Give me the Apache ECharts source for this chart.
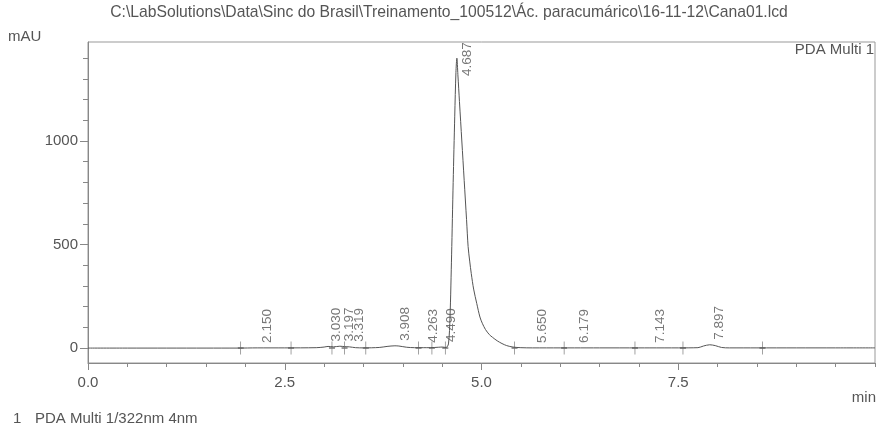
<!DOCTYPE html>
<html>
<head>
<meta charset="utf-8">
<script src="https://cdn.jsdelivr.net/npm/echarts@6/dist/echarts.min.js"></script>
<style>html,body{margin:0;padding:0;background:#fff}#c{width:879px;height:432px}</style>
</head>
<body>
<div id="c"></div>
<script>
// ---- data ----
const titleText = 'C:\\LabSolutions\\Data\\Sinc do Brasil\\Treinamento_100512\\Ác. paracumárico\\16-11-12\\Cana01.lcd';
const yUnit = 'mAU';
const xUnit = 'min';
const channelName = 'PDA Multi 1';
const legendIndex = '1';
const legendText = 'PDA Multi 1/322nm 4nm';

const timeMin = [0, 0.5, 1.0, 1.5, 1.9, 2.15, 2.5, 2.9, 3.0, 3.05, 3.12, 3.2, 3.26, 3.32, 3.4, 3.5, 3.7, 3.8, 3.9, 3.95, 4.05, 4.15, 4.26, 4.35, 4.45, 4.5, 4.55, 4.58, 4.60, 4.62, 4.64, 4.66, 4.675, 4.687, 4.70, 4.72, 4.75, 4.78, 4.81, 4.83, 4.85, 4.87, 4.90, 4.94, 4.98, 5.01, 5.05, 5.10, 5.14, 5.20, 5.26, 5.32, 5.40, 5.50, 5.65, 6.0, 6.18, 6.5, 7.0, 7.14, 7.5, 7.75, 7.82, 7.9, 7.97, 8.05, 8.15, 8.5, 9.0, 9.5, 10.0];
const absorbance = [0, 0, 0, 0, 0, 1, 1, 2, 5, 8, 6, 9, 7, 6, 2, 1, 3, 8, 11, 10, 4, 2, 2, 2, 4, 5, 3, 20, 150, 450, 800, 1120, 1330, 1400, 1320, 1190, 1000, 810, 620, 490, 420, 360, 285, 215, 150, 120, 90, 65, 52, 35, 22, 12, 5, 2, 1, 1, 1, 1, 1, 1, 1, 2, 10, 16, 12, 3, 1, 1, 1, 1, 1];

const peakTimes = [2.150, 3.030, 3.197, 3.319, 3.908, 4.263, 4.490, 4.687, 5.650, 6.179, 7.143, 7.897];
const peakHeights = [1, 8, 9, 6, 11, 2, 5, 1400, 1, 1, 1, 16];
const markerTimes = [1.94, 2.58, 3.10, 3.26, 3.53, 4.20, 4.37, 4.54, 5.42, 6.05, 6.95, 7.56, 8.57];

const yLabelValues = [0, 500, 1000];
const yMinorTicks = [0, 100, 200, 300, 400, 500, 600, 700, 800, 900, 1000, 1100, 1200, 1300, 1400];
const xMin = 0, xMax = 10, xMajorStep = 2.5, xMinorStep = 0.5;

// ---- chart ----
const FONT = 'Liberation Sans, Arial, sans-serif';
const TXT = '#555';
const LINE = '#888';
const labelCap = 1290;

const chart = echarts.init(document.getElementById('c'), null, {renderer: 'canvas'});
chart.setOption({
  animation: false,
  backgroundColor: '#fff',
  textStyle: {fontFamily: FONT},
  grid: {left: 88, right: 4, top: 42, bottom: 69, show: true, borderColor: '#999', borderWidth: 1},
  xAxis: [{
    type: 'value', min: xMin, max: xMax, interval: xMajorStep, position: 'bottom',
    axisLine: {onZero: false, lineStyle: {color: LINE}},
    axisTick: {show: true, inside: false, length: 7, lineStyle: {color: LINE}},
    axisLabel: {showMaxLabel: false, color: TXT, fontSize: 15, fontFamily: FONT, margin: 12,
      formatter: v => v >= xMax ? '' : v.toFixed(1)},
    splitLine: {show: false}
  }, {
    type: 'value', min: xMin, max: xMax, interval: xMinorStep, position: 'bottom',
    axisLine: {show: false, onZero: false},
    axisTick: {show: true, inside: false, length: 4, lineStyle: {color: LINE}},
    axisLabel: {show: false},
    splitLine: {show: false}
  }],
  yAxis: [{
    type: 'value', min: -72, max: 1478, position: 'left',
    axisLine: {show: true, onZero: false, lineStyle: {color: LINE}},
    axisTick: {show: true, inside: false, length: 8, customValues: yLabelValues, lineStyle: {color: LINE}},
    axisLabel: {customValues: yLabelValues, color: TXT, fontSize: 15, fontFamily: FONT, margin: 10,
      formatter: v => String(v)},
    splitLine: {show: false}
  }, {
    type: 'value', min: -72, max: 1478, position: 'left',
    axisLine: {show: false, onZero: false},
    axisTick: {show: true, inside: false, length: 5, customValues: yMinorTicks, lineStyle: {color: LINE}},
    axisLabel: {show: false},
    splitLine: {show: false}
  }],
  series: [
    {
      type: 'line', data: timeMin.map((t, i) => [t, absorbance[i]]),
      symbol: 'none', smooth: 0.3, lineStyle: {color: '#555', width: 1}, z: 3
    },
    {
      type: 'scatter', data: markerTimes.map(t => [t, 0]),
      symbol: 'path://M5,0 L5,24 M2,12 L8,12', symbolSize: [6, 13],
      itemStyle: {color: 'transparent', borderColor: '#555', borderWidth: 1}, z: 4
    },
    {
      type: 'scatter', data: peakTimes.map((t, i) => [t, Math.min(peakHeights[i], labelCap)]),
      symbolSize: 0,
      label: {
        show: true, position: 'top', distance: 5, rotate: 90, align: 'left', verticalAlign: 'middle',
        offset: [0, 10], color: TXT, fontSize: 13.5, fontFamily: FONT,
        formatter: p => peakTimes[p.dataIndex].toFixed(3)
      }, z: 5
    }
  ],
  graphic: [
    {type: 'text', x: 449, y: 13, style: {text: titleText, font: '15.7px ' + FONT, fill: TXT, textAlign: 'center', textVerticalAlign: 'middle'}},
    {type: 'text', x: 8, y: 37, style: {text: yUnit, font: '15px ' + FONT, fill: TXT, textAlign: 'left', textVerticalAlign: 'middle'}},
    {type: 'text', x: 874, y: 50, style: {text: channelName, font: '15px ' + FONT, fill: TXT, textAlign: 'right', textVerticalAlign: 'middle'}},
    {type: 'text', x: 876, y: 398, style: {text: xUnit, font: '15px ' + FONT, fill: TXT, textAlign: 'right', textVerticalAlign: 'middle'}},
    {type: 'text', x: 13, y: 419, style: {text: legendIndex, font: '15px ' + FONT, fill: TXT, textAlign: 'left', textVerticalAlign: 'middle'}},
    {type: 'text', x: 35, y: 419, style: {text: legendText, font: '15px ' + FONT, fill: TXT, textAlign: 'left', textVerticalAlign: 'middle'}}
  ]
});
</script>
</body>
</html>
